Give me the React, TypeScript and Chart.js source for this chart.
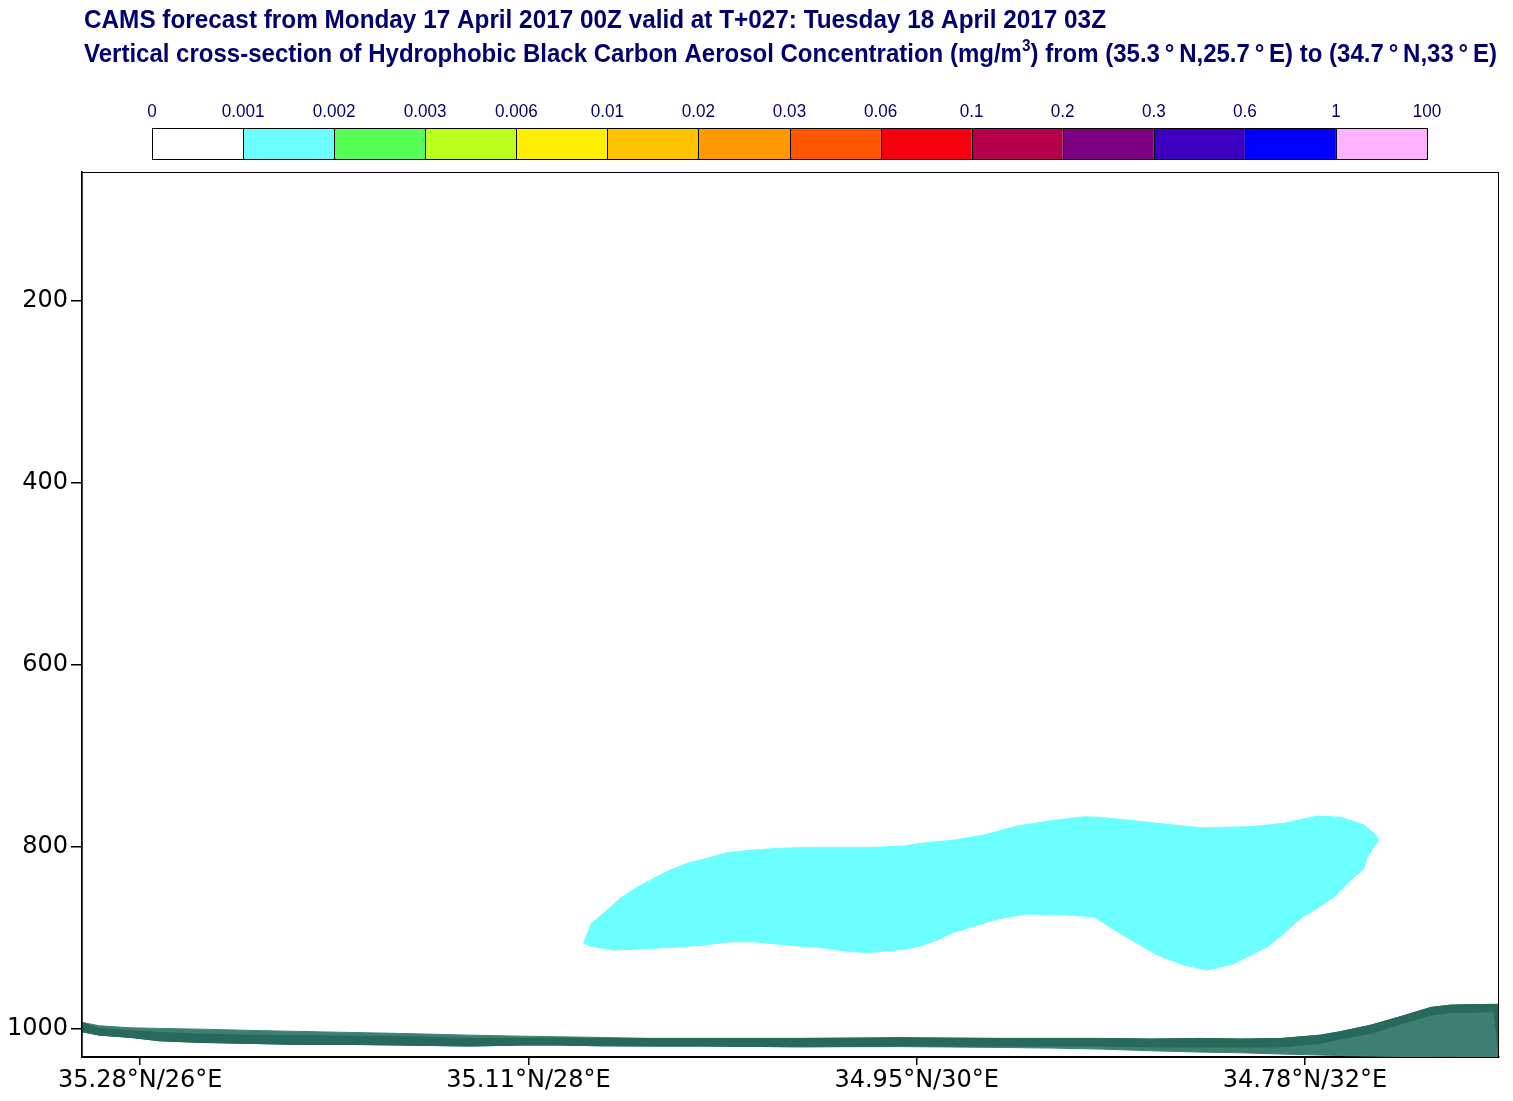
import React, { useEffect, useRef } from "react";
import { Chart, registerables } from "chart.js";

Chart.register(...registerables);

// ---------- text ----------
const titleLine1 = "CAMS forecast from Monday 17 April 2017 00Z valid at T+027: Tuesday 18 April 2017 03Z";
const titleLine2a = "Vertical cross-section of Hydrophobic Black Carbon Aerosol Concentration (mg/m";
const titleLine2sup = "3";
const titleLine2b = ") from (35.3\u2009°\u2009N,25.7\u2009°\u2009E) to (34.7\u2009°\u2009N,33\u2009°\u2009E)";

// ---------- colour bar ----------
const colorbarLabels = ["0", "0.001", "0.002", "0.003", "0.006", "0.01", "0.02", "0.03", "0.06", "0.1", "0.2", "0.3", "0.6", "1", "100"];
const colorbarColors = [
  "#ffffff", "#6bffff", "#55ff55", "#bbff1e", "#ffee00", "#ffc300", "#ff9900",
  "#ff5500", "#f5000f", "#b5004a", "#7d0082", "#3e00c0", "#0000ff", "#ffb3ff",
];

// ---------- axes ----------
const xTickValues = [26, 28, 30, 32];
const xTickLabels = ["35.28°N/26°E", "35.11°N/28°E", "34.95°N/30°E", "34.78°N/32°E"];
const yTickValues = [200, 400, 600, 800, 1000];

// ---------- plume (0.001–0.002 mg/m3 contour) ----------
const plumeTopLon = [28.284, 28.324, 28.387, 28.473, 28.559, 28.662, 28.731, 28.817, 28.937, 29.023, 29.16, 29.281, 29.418, 29.762, 29.933, 30.02, 30.191, 30.346, 30.518, 30.69, 30.861, 30.947, 31.119, 31.291, 31.463, 31.721, 31.892, 32.064, 32.185, 32.305, 32.356, 32.382];
const plumeTopP = [905.8, 883.8, 872.8, 856.3, 844.2, 832.6, 825.2, 817.9, 811.3, 806.2, 803.3, 801.4, 800.3, 800.3, 798.9, 795.9, 792.3, 786.8, 776.9, 771.1, 766.7, 767.3, 771.1, 775.0, 778.7, 777.6, 773.9, 765.9, 767.3, 775.8, 784.9, 792.3];
const plumeBottomLon = [28.284, 28.334, 28.437, 28.559, 28.731, 28.901, 29.04, 29.159, 29.332, 29.504, 29.624, 29.745, 29.848, 29.932, 30.02, 30.106, 30.174, 30.312, 30.432, 30.569, 30.776, 30.913, 31.033, 31.137, 31.24, 31.377, 31.497, 31.549, 31.635, 31.721, 31.807, 31.892, 31.978, 32.064, 32.15, 32.236, 32.301, 32.322, 32.356, 32.382];
const plumeBottomP = [905.8, 909.5, 913.1, 912.0, 910.2, 907.7, 904.0, 904.0, 907.7, 910.2, 913.9, 916.1, 913.9, 912.4, 908.7, 902.2, 894.8, 885.7, 878.3, 873.6, 874.7, 876.6, 893.0, 905.8, 918.6, 929.6, 935.1, 932.6, 927.8, 918.6, 909.5, 894.8, 878.3, 867.3, 854.6, 836.2, 824.5, 810.6, 799.6, 792.3];

// ---------- terrain ----------
const terrainLon = [25.7, 25.79, 25.95, 26.1, 26.31, 26.57, 26.82, 27.08, 27.34, 27.7, 27.96, 28.16, 28.37, 28.63, 28.89, 29.4, 29.92, 30.43, 30.69, 30.95, 31.21, 31.46, 31.67, 31.88, 31.98, 32.08, 32.18, 32.34, 32.49, 32.65, 32.75, 32.96, 32.975, 33.0];
const terrainLightTop = [992.6, 996.3, 998.5, 999.2, 1000.0, 1001.4, 1002.5, 1003.6, 1004.7, 1006.6, 1007.7, 1008.4, 1009.1, 1010.2, 1010.2, 1010.2, 1009.5, 1010.2, 1010.2, 1010.2, 1010.9, 1010.2, 1010.9, 1010.2, 1008.4, 1006.6, 1002.9, 995.6, 986.4, 976.1, 973.6, 972.8, 972.8, 972.8];
const terrainDarkTop = [992.6, 999.2, 1001.8, 1003.6, 1005.5, 1006.6, 1007.3, 1007.7, 1008.4, 1010.2, 1010.2, 1010.2, 1010.2, 1010.2, 1010.2, 1010.2, 1009.5, 1010.2, 1010.2, 1010.2, 1010.9, 1010.2, 1010.9, 1010.2, 1008.4, 1006.6, 1002.9, 995.6, 986.4, 976.1, 973.6, 972.8, 972.8, 972.8];
const terrainDarkBottom = [1002.9, 1006.6, 1009.1, 1012.8, 1014.6, 1015.7, 1016.8, 1016.8, 1017.5, 1018.6, 1017.5, 1017.5, 1018.3, 1018.6, 1018.6, 1019.4, 1018.6, 1018.6, 1018.6, 1018.6, 1019.4, 1019.7, 1019.7, 1019.4, 1017.5, 1015.7, 1010.9, 1004.7, 994.5, 984.6, 981.6, 980.9, 980.9, 1031.0];
const terrainLightBottom = [1002.9, 1006.6, 1009.1, 1012.8, 1014.6, 1015.7, 1016.8, 1016.8, 1017.5, 1018.6, 1017.5, 1017.5, 1018.3, 1018.6, 1018.6, 1019.4, 1019.2, 1020.1, 1020.8, 1021.9, 1023.8, 1025.2, 1026.0, 1027.4, 1027.9, 1028.5, 1029.0, 1029.6, 1030.0, 1030.2, 1030.4, 1031.0, 1031.0, 1031.0];

const W = 1513;
const H = 1101;

function polygon(topLon: number[], topP: number[], botLon: number[], botP: number[]) {
  const pts = topLon.map((x, i) => ({ x, y: topP[i] }));
  for (let i = botLon.length - 1; i >= 0; i--) pts.push({ x: botLon[i], y: botP[i] });
  return pts;
}

const headerPlugin = {
  id: "header",
  afterDraw(chart: any) {
    const ctx = chart.ctx as CanvasRenderingContext2D;
    const navy = "#00006e";
    ctx.save();
    ctx.fillStyle = navy;
    ctx.textBaseline = "alphabetic";
    ctx.textAlign = "left";

    // Title line 1
    ctx.font = "bold 25px 'Liberation Sans'";
    const w1 = ctx.measureText(titleLine1).width;
    const s1 = (1106 - 84) / w1;
    ctx.save();
    ctx.translate(84, 28);
    ctx.scale(s1, 1);
    ctx.fillText(titleLine1, 0, 0);
    ctx.restore();

    // Title line 2 with superscript
    ctx.font = "bold 25px 'Liberation Sans'";
    const wa = ctx.measureText(titleLine2a).width;
    const wb = ctx.measureText(titleLine2b).width;
    ctx.font = "bold 16px 'Liberation Sans'";
    const ws = ctx.measureText(titleLine2sup).width;
    const s2 = (1497 - 84) / (wa + wb + ws);
    ctx.save();
    ctx.translate(84, 62);
    ctx.scale(s2, 1);
    ctx.font = "bold 25px 'Liberation Sans'";
    ctx.fillText(titleLine2a, 0, 0);
    ctx.font = "bold 16px 'Liberation Sans'";
    ctx.fillText(titleLine2sup, wa, -11);
    ctx.font = "bold 25px 'Liberation Sans'";
    ctx.fillText(titleLine2b, wa + ws, 0);
    ctx.restore();

    // Colour bar
    const x0 = 152;
    const x1 = 1427;
    const top = 128;
    const h = 31;
    const n = colorbarColors.length;
    const bw = (x1 - x0) / n;
    for (let i = 0; i < n; i++) {
      ctx.fillStyle = colorbarColors[i];
      ctx.fillRect(x0 + i * bw, top, bw, h);
    }
    ctx.strokeStyle = "#000";
    ctx.lineWidth = 1;
    for (let i = 0; i <= n; i++) {
      const x = Math.round(x0 + i * bw) + 0.5;
      ctx.beginPath();
      ctx.moveTo(x, top);
      ctx.lineTo(x, top + h);
      ctx.stroke();
    }
    ctx.strokeRect(x0 + 0.5, top + 0.5, x1 - x0, h);

    ctx.fillStyle = navy;
    ctx.font = "18px 'Liberation Sans'";
    ctx.textAlign = "center";
    for (let i = 0; i < colorbarLabels.length; i++) {
      const x = x0 + i * bw;
      ctx.save();
      ctx.translate(x, 117);
      ctx.scale(0.95, 1);
      ctx.fillText(colorbarLabels[i], 0, 0);
      ctx.restore();
    }

    // Plot frame
    const a = chart.chartArea;
    ctx.strokeStyle = "#000";
    ctx.lineWidth = 1;
    ctx.strokeRect(a.left, a.top + 0.5, a.right - a.left - 0.5, a.bottom - a.top);
    ctx.restore();
  },
};

export default function App() {
  const ref = useRef<HTMLCanvasElement | null>(null);

  useEffect(() => {
    document.body.style.margin = "0";
    const canvas = ref.current;
    if (!canvas) return;

    const darkColor = "#27695a";
    const lightColor = "#3e806f";
    const cyan = "#6bffff";

    const chart = new Chart(canvas, {
      type: "line",
      data: {
        datasets: [
          {
            data: polygon(terrainLon, terrainDarkTop, terrainLon, terrainDarkBottom),
            backgroundColor: darkColor,
            borderColor: darkColor,
            borderWidth: 1,
            fill: "shape",
            pointRadius: 0,
            tension: 0,
          },
          {
            data: polygon(terrainLon, terrainLightTop, terrainLon, terrainLightBottom),
            backgroundColor: lightColor,
            borderColor: lightColor,
            borderWidth: 1,
            fill: "shape",
            pointRadius: 0,
            tension: 0,
          },
          {
            data: polygon(plumeTopLon, plumeTopP, plumeBottomLon, plumeBottomP),
            backgroundColor: cyan,
            borderColor: cyan,
            borderWidth: 1,
            fill: "shape",
            pointRadius: 0,
            tension: 0,
          },
        ],
      } as any,
      options: {
        responsive: false,
        animation: false,
        parsing: false,
        normalized: false,
        layout: { padding: { top: 172, right: 14, left: 0, bottom: 0 } },
        plugins: {
          legend: { display: false },
          title: { display: false },
          tooltip: { enabled: false },
        },
        scales: {
          x: {
            type: "linear",
            min: 25.7,
            max: 33.0,
            afterBuildTicks: (s: any) => {
              s.ticks = xTickValues.map((v) => ({ value: v }));
            },
            afterFit: (s: any) => {
              s.height = 44;
            },
            ticks: {
              autoSkip: false,
              maxRotation: 0,
              padding: 1,
              color: "#000",
              font: { family: "'DejaVu Sans'", size: 24 },
              callback: (v: any) => {
                const i = xTickValues.indexOf(Number(v));
                return i >= 0 ? xTickLabels[i] : "";
              },
            },
            grid: { drawOnChartArea: false, tickLength: 8, color: "#000", lineWidth: 1.5 },
            border: { color: "#000", width: 1.5 },
          },
          y: {
            type: "linear",
            reverse: true,
            min: 58.3,
            max: 1030.6,
            afterBuildTicks: (s: any) => {
              s.ticks = yTickValues.map((v) => ({ value: v }));
            },
            afterFit: (s: any) => {
              s.width = 82;
            },
            ticks: {
              autoSkip: false,
              padding: 3,
              color: "#000",
              font: { family: "'DejaVu Sans'", size: 24 },
              callback: (v: any) => String(v),
            },
            grid: { drawOnChartArea: false, tickLength: 11, color: "#000", lineWidth: 1.5 },
            border: { color: "#000", width: 1.5 },
          },
        },
      } as any,
      plugins: [headerPlugin],
    });

    return () => chart.destroy();
  }, []);

  return (
    <div style={{ width: W, height: H, position: "relative", background: "#fff" }}>
      <canvas ref={ref} width={W} height={H} style={{ display: "block", width: W, height: H }} />
    </div>
  );
}
